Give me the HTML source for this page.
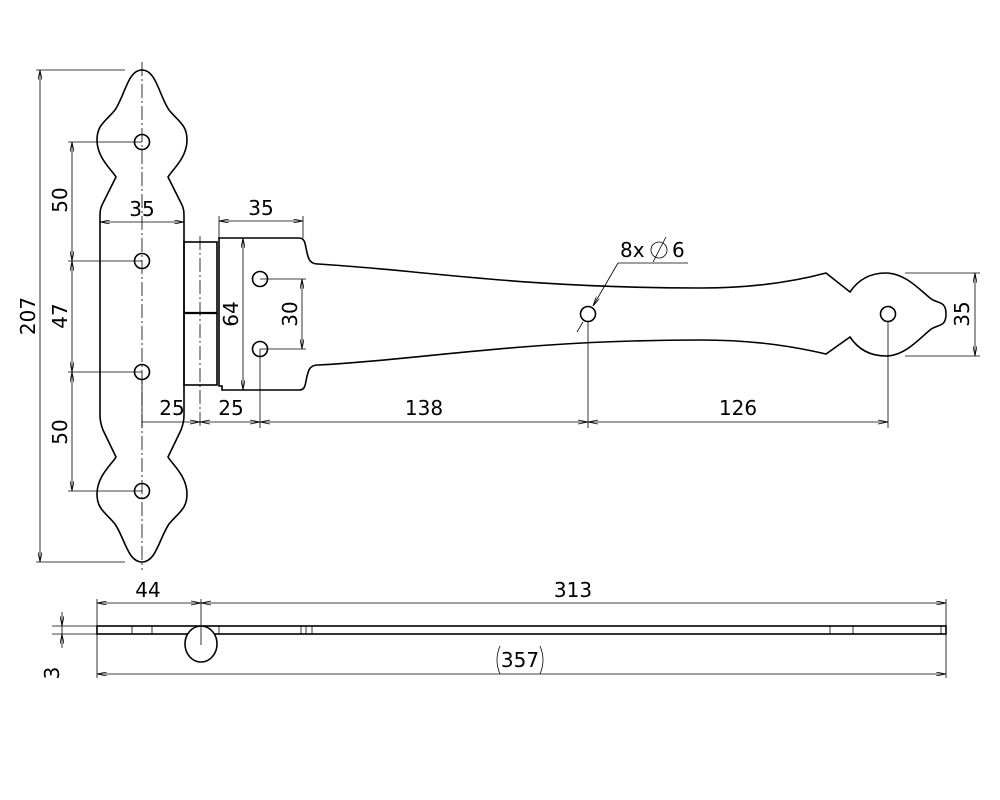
<!DOCTYPE html>
<html><head><meta charset="utf-8"><style>
html,body{margin:0;padding:0;background:#fff}
svg{display:block}
text{font-family:"DejaVu Sans","Liberation Sans",sans-serif;font-size:20px;fill:#000}
</style></head><body>
<svg width="1000" height="800" viewBox="0 0 1000 800" xmlns="http://www.w3.org/2000/svg">
<defs>
<marker id="a" viewBox="0 0 10 4" refX="10" refY="2" markerWidth="10" markerHeight="4" orient="auto-start-reverse" markerUnits="userSpaceOnUse"><path d="M0,0 L10,2 L0,4" fill="none" stroke="#000" stroke-width="0.8"/></marker>
</defs>
<g fill="none" stroke="#000" stroke-width="1.6">
<path d="M142,70 C128,70 125,95 115,110 C105,122 97,125 97,140 C97,158 112,170 116,177 L103,203 C100,208 100,212 100,218 L100,415 C100,421 101,425 103,430 L116,457 C112,464 97,476 97,494 C97,509 105,512 115,524 C125,539 128,562 142,562 C156,562 159,539 169,524 C179,512 187,509 187,494 C187,476 172,464 168,457 L181,430 C183,425 184,421 184,415 L184,218 C184,212 184,208 181,203 L168,177 C172,170 187,158 187,140 C187,125 179,122 169,110 C159,95 156,70 142,70 Z"/>
<rect x="184" y="242" width="33" height="143"/>
<line x1="184" y1="313" x2="217" y2="313" stroke-width="2.2"/>
<path d="M219,238 L299,238 C304,238 305,242 306,248 C308,258 309,264 318,264 C420,270 520,288 700,288 C760,288 800,280 826,273 L850,292 C858,280 870,273 886,273 C905,273 920,290 930,298 C937,304 946,300 946,314 C946,328 937,324 930,330 C920,338 905,356 886,356 C870,356 858,349 850,337 L826,354 C800,348 760,340 700,340 C520,340 420,360 318,365 C309,365 308,371 306,381 C305,387 304,390 299,390 L222,390 L222,386 L219,386 Z"/>
<circle cx="142" cy="142" r="7.5"/><circle cx="142" cy="261" r="7.5"/><circle cx="142" cy="372" r="7.5"/><circle cx="142" cy="491" r="7.5"/>
<circle cx="260" cy="279" r="7.5"/><circle cx="260" cy="349" r="7.5"/><circle cx="588" cy="314" r="7.5"/><circle cx="888" cy="314" r="7.5"/>
<rect x="97" y="626" width="849" height="8"/>
<ellipse cx="201" cy="644" rx="16" ry="18" fill="#fff"/>
</g>
<g fill="none" stroke="#000" stroke-width="0.8">
<line x1="132" y1="626" x2="132" y2="634"/><line x1="152" y1="626" x2="152" y2="634"/>
<line x1="219" y1="626" x2="219" y2="634"/>
<line x1="301" y1="626" x2="301" y2="634"/><line x1="306" y1="626" x2="306" y2="634"/><line x1="312" y1="626" x2="312" y2="634"/>
<line x1="830" y1="626" x2="830" y2="634"/><line x1="853" y1="626" x2="853" y2="634"/><line x1="941" y1="626" x2="941" y2="634"/>
<line x1="142" y1="62" x2="142" y2="570" stroke-dasharray="14,3,2,3"/>
<line x1="200" y1="236" x2="200" y2="428" stroke-dasharray="14,3,2,3"/>
<line x1="36" y1="70" x2="125" y2="70"/><line x1="36" y1="562" x2="125" y2="562"/>
<line x1="68" y1="142" x2="142" y2="142"/><line x1="68" y1="261" x2="142" y2="261"/>
<line x1="68" y1="372" x2="142" y2="372"/><line x1="68" y1="491" x2="142" y2="491"/>
<line x1="219" y1="216" x2="219" y2="238"/><line x1="303" y1="216" x2="303" y2="238"/>
<line x1="260" y1="279" x2="306" y2="279"/><line x1="260" y1="349" x2="306" y2="349"/>
<line x1="260" y1="349" x2="260" y2="428"/><line x1="588" y1="321" x2="588" y2="428"/><line x1="888" y1="321" x2="888" y2="428"/>
<line x1="142" y1="380" x2="142" y2="428"/>
<line x1="905" y1="273" x2="980" y2="273"/><line x1="905" y1="356" x2="980" y2="356"/>
<line x1="97" y1="599" x2="97" y2="678"/><line x1="946" y1="599" x2="946" y2="678"/><line x1="201" y1="599" x2="201" y2="645"/>
<line x1="52" y1="626" x2="97" y2="626"/><line x1="52" y1="634" x2="97" y2="634"/>
<line x1="40" y1="70" x2="40" y2="562" marker-start="url(#a)" marker-end="url(#a)"/>
<line x1="72" y1="142" x2="72" y2="261" marker-start="url(#a)" marker-end="url(#a)"/>
<line x1="72" y1="261" x2="72" y2="372" marker-start="url(#a)" marker-end="url(#a)"/>
<line x1="72" y1="372" x2="72" y2="491" marker-start="url(#a)" marker-end="url(#a)"/>
<line x1="100" y1="222" x2="184" y2="222" marker-start="url(#a)" marker-end="url(#a)"/>
<line x1="219" y1="221" x2="303" y2="221" marker-start="url(#a)" marker-end="url(#a)"/>
<line x1="243" y1="238" x2="243" y2="390" marker-start="url(#a)" marker-end="url(#a)"/>
<line x1="302" y1="279" x2="302" y2="349" marker-start="url(#a)" marker-end="url(#a)"/>
<line x1="142" y1="422" x2="888" y2="422"/>
<path d="M190,420 L200,422 L190,424 M210,420 L200,422 L210,424 M250,420 L260,422 L250,424 M270,420 L260,422 L270,424 M578,420 L588,422 L578,424 M598,420 L588,422 L598,424 M878,420 L888,422 L878,424"/>
<line x1="975" y1="273" x2="975" y2="356" marker-start="url(#a)" marker-end="url(#a)"/>
<line x1="97" y1="603" x2="946" y2="603" marker-start="url(#a)" marker-end="url(#a)"/>
<path d="M191,601 L201,603 L191,605 M211,601 L201,603 L211,605"/>
<line x1="97" y1="674" x2="946" y2="674" marker-start="url(#a)" marker-end="url(#a)"/>
<line x1="62" y1="612" x2="62" y2="626" marker-end="url(#a)"/>
<line x1="62" y1="648" x2="62" y2="634" marker-end="url(#a)"/>
<line x1="62" y1="626" x2="62" y2="634"/>
<path d="M618,263 L688,263"/>
<line x1="618" y1="263" x2="593" y2="306" marker-end="url(#a)"/>
<line x1="583" y1="322" x2="577" y2="332"/>
<path d="M500,646 Q494,660 500,674 M540,646 Q546,660 540,674"/>
<circle cx="659" cy="250" r="8"/><line x1="653" y1="262" x2="666" y2="237"/>
</g>
<g>
<text x="28" y="316" text-anchor="middle" transform="rotate(-90 28 316)" dy="7">207</text>
<text x="60" y="200" text-anchor="middle" transform="rotate(-90 60 200)" dy="7">50</text>
<text x="60" y="316" text-anchor="middle" transform="rotate(-90 60 316)" dy="7">47</text>
<text x="60" y="432" text-anchor="middle" transform="rotate(-90 60 432)" dy="7">50</text>
<text x="142" y="216" text-anchor="middle">35</text>
<text x="261" y="215" text-anchor="middle">35</text>
<text x="231" y="314" text-anchor="middle" transform="rotate(-90 231 314)" dy="7">64</text>
<text x="290" y="314" text-anchor="middle" transform="rotate(-90 290 314)" dy="7">30</text>
<text x="172" y="415" text-anchor="middle">25</text>
<text x="231" y="415" text-anchor="middle">25</text>
<text x="424" y="415" text-anchor="middle">138</text>
<text x="738" y="415" text-anchor="middle">126</text>
<text x="962" y="314" text-anchor="middle" transform="rotate(-90 962 314)" dy="7">35</text>
<text x="620" y="257">8x</text>
<text x="672" y="257">6</text>
<text x="148" y="597" text-anchor="middle">44</text>
<text x="573" y="597" text-anchor="middle">313</text>
<text x="520" y="667" text-anchor="middle">357</text>
<text x="52" y="673" text-anchor="middle" transform="rotate(-90 52 673)" dy="7">3</text>
</g>
</svg>
</body></html>
